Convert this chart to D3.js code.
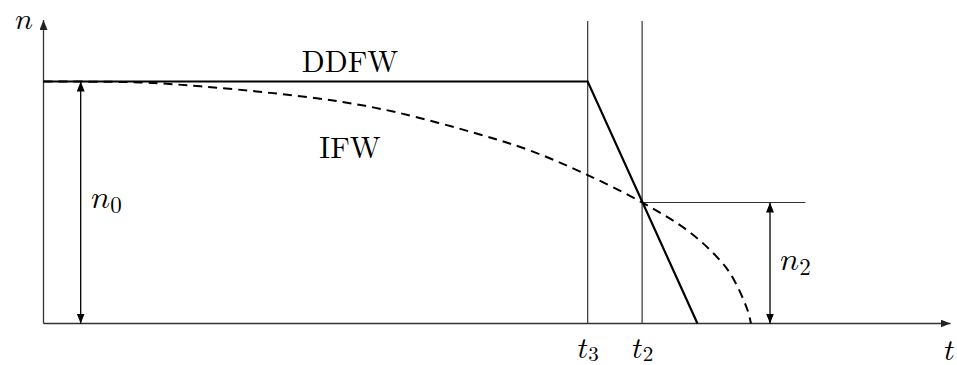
<!DOCTYPE html>
<html>
<head>
<meta charset="utf-8">
<script src="https://cdn.jsdelivr.net/npm/d3@7"></script>
<style>
  html, body { margin: 0; padding: 0; background: #fff; }
  svg { display: block; }
</style>
</head>
<body>
<svg id="chart" width="957" height="365"></svg>
<script>
// Particle number n versus time t for the two schemes
const tMax = 10;           // end of the time axis
const nMax = 1.25;         // top of the n axis
const n0 = 1.0;            // initial level
const n2 = 0.5;            // level where both curves cross
const t3 = 6.0;            // DDFW starts to drop
const t2 = 6.6;            // crossing time

// DDFW: flat at n0 until t3, then linear drop
const ddfwT = [0, 6.0, 7.21];
const ddfwN = [1.0, 1.0, 0.0];

// IFW: smooth decay reaching zero with a steep end
const ifwT = [0, 1.07, 1.73, 2.50, 3.27, 3.90, 4.82, 5.37, 5.95, 6.60, 7.13, 7.48, 7.61, 7.76, 7.80];
const ifwN = [1.0, 0.996, 0.980, 0.953, 0.917, 0.872, 0.780, 0.714, 0.622, 0.50, 0.376, 0.252, 0.182, 0.058, 0.0];

// Marked times on the t axis
const tickTimes = [t3, t2];
const tickSubs = ["3", "2"];

const seriesLabels = ["DDFW", "IFW"];

const ROMAN = '"Latin Modern Roman"';
const MATH = '"Latin Modern Math"';
const N = "\u{1D45B}";   // math italic n
const T = "\u{1D461}";   // math italic t

const svg = d3.select("#chart");
const x = d3.scaleLinear().domain([0, tMax]).range([43.5, 950.5]);
const y = d3.scaleLinear().domain([0, nMax]).range([323.5, 21]);

const defs = svg.append("defs");
function marker(id, color, len, wid) {
  defs.append("marker")
    .attr("id", id)
    .attr("viewBox", `0 0 ${len} ${wid}`)
    .attr("refX", len).attr("refY", wid / 2)
    .attr("markerWidth", len).attr("markerHeight", wid)
    .attr("markerUnits", "userSpaceOnUse")
    .attr("orient", "auto-start-reverse")
    .append("path")
    .attr("d", `M0,0L${len},${wid / 2}L0,${wid}Z`)
    .attr("fill", color);
}
marker("axisArrow", "#222", 10, 8);
marker("dimArrow", "#000", 10, 8);

// Math label: italic symbol with an upright subscript
function mathText(sel, sym, sub, size = 30, subSize = 21, drop = 4) {
  sel.text(null);
  sel.append("tspan").style("font-family", MATH).attr("font-size", size).text(sym);
  if (sub) {
    sel.append("tspan").style("font-family", ROMAN).attr("font-size", subSize)
      .attr("dy", drop).text(sub);
  }
}

// Time axis labels for the marked times
const xAxis = d3.axisBottom(x).tickValues(tickTimes).tickSize(0).tickSizeOuter(0).tickFormat(() => "");
const gx = svg.append("g").attr("transform", `translate(0,${y(0)})`).call(xAxis);
gx.select(".domain").remove();
gx.selectAll(".tick text")
  .attr("y", 34).attr("dy", null)
  .attr("text-anchor", "middle")
  .attr("fill", "#000")
  .each(function(d, i) { mathText(d3.select(this), T, tickSubs[i], 30, 21, 3); });

// Axis lines with arrow heads
svg.append("line")
  .attr("x1", x(0)).attr("y1", y(0)).attr("x2", x(tMax)).attr("y2", y(0))
  .attr("stroke", "#333").attr("stroke-width", 1.3)
  .attr("marker-end", "url(#axisArrow)");
svg.append("line")
  .attr("x1", x(0)).attr("y1", y(0)).attr("x2", x(0)).attr("y2", y(nMax) - 1)
  .attr("stroke", "#333").attr("stroke-width", 1.3)
  .attr("marker-end", "url(#axisArrow)");

// Vertical guides at t3 and t2
svg.selectAll("line.guide").data(tickTimes).join("line")
  .attr("class", "guide")
  .attr("x1", d => x(d)).attr("x2", d => x(d))
  .attr("y1", y(0)).attr("y2", y(nMax))
  .attr("stroke", "#333").attr("stroke-width", 1.2);

// Horizontal guide at the crossing level
svg.append("line")
  .attr("x1", x(t2)).attr("x2", x(8.40))
  .attr("y1", y(n2)).attr("y2", y(n2))
  .attr("stroke", "#333").attr("stroke-width", 1.2);

// Curves
svg.append("path")
  .datum(d3.zip(ifwT, ifwN))
  .attr("d", d3.line().x(d => x(d[0])).y(d => y(d[1])).curve(d3.curveCatmullRom.alpha(0.5)))
  .attr("fill", "none").attr("stroke", "#000").attr("stroke-width", 2)
  .attr("stroke-dasharray", "9,6");
svg.append("path")
  .datum(d3.zip(ddfwT, ddfwN))
  .attr("d", d3.line().x(d => x(d[0])).y(d => y(d[1])))
  .attr("fill", "none").attr("stroke", "#000").attr("stroke-width", 2.2)
  .attr("stroke-linejoin", "miter");

// Dimension arrows for n0 and n2
function dimension(tPos, nTop) {
  svg.append("line")
    .attr("x1", x(tPos)).attr("x2", x(tPos))
    .attr("y1", y(nTop)).attr("y2", y(0))
    .attr("stroke", "#000").attr("stroke-width", 1.3)
    .attr("marker-start", "url(#dimArrow)")
    .attr("marker-end", "url(#dimArrow)");
}
dimension(0.41, n0);
dimension(8.01, n2);

// Labels
mathText(svg.append("text").attr("x", 91).attr("y", 208), N, "0", 32, 23, 5);
mathText(svg.append("text").attr("x", 780).attr("y", 270), N, "2", 32, 23, 5);
mathText(svg.append("text").attr("x", 15).attr("y", 29), N);
mathText(svg.append("text").attr("x", 944).attr("y", 360), T);

svg.append("text").attr("x", 350).attr("y", 72).attr("text-anchor", "middle")
  .style("font-family", ROMAN).attr("font-size", 30).text(seriesLabels[0]);
svg.append("text").attr("x", 350).attr("y", 158).attr("text-anchor", "middle")
  .style("font-family", ROMAN).attr("font-size", 30).text(seriesLabels[1]);
</script>
</body>
</html>
